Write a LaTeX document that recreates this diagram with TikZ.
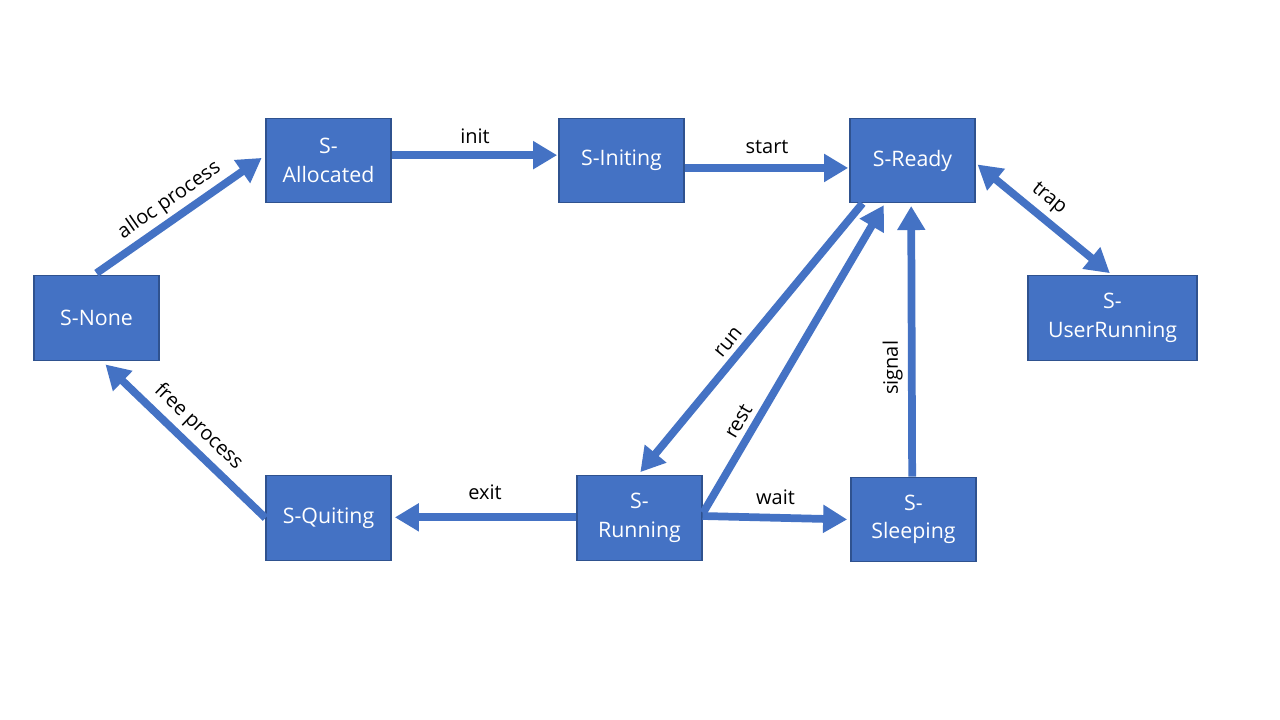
\documentclass[tikz,border=0pt]{standalone}
\usepackage{fontspec}
\setmainfont{Open Sans}
\usetikzlibrary{arrows.meta}
\definecolor{boxblue}{HTML}{4472C4}
\definecolor{boxline}{HTML}{2F528F}
\tikzset{
  state/.style={draw=boxline, line width=0.8pt, fill=boxblue, text=white,
    minimum width=93.75pt, minimum height=63.5pt, inner sep=2pt,
    align=center, font=\fontsize{16}{21.5}\selectfont},
  conn/.style={draw=boxblue, line width=5.8pt,
    -{Triangle[length=18pt,width=20pt]}, shorten >=1pt},
  both/.style={draw=boxblue, line width=5.8pt,
    {Triangle[length=18pt,width=20pt]}-{Triangle[length=18pt,width=20pt]}},
  lab/.style={font=\fontsize{15}{18}\selectfont, text=black, inner sep=4pt}
}
\begin{document}
\begin{tikzpicture}[x=0.75pt,y=-0.75pt]
\useasboundingbox (0,0) rectangle (1280,720);
\fill[white] (0,0) rectangle (1280,720);
\node[state] (none) at (96.5,318) {S-None};
\node[state] (alloc) at (328.5,160.5) {S-\\Allocated};
\node[state] (init) at (621.5,160.5) {S-Initing};
\node[state] (ready) at (912.5,160.5) {S-Ready};
\node[state, minimum width=126.75pt] (user) at (1112.5,318) {S-\\UserRunning};
\node[state] (quit) at (328.5,518) {S-Quiting};
\node[state] (run) at (639.5,518) {S-\\Running};
\node[state] (sleep) at (913.5,519.5) {S-\\Sleeping};

\draw[conn] ([yshift=1.5pt]none.north) -- ([xshift=-2pt,yshift=2.5pt]alloc.west)
  node[lab, midway, sloped, above, yshift=-1pt] {alloc process};
\draw[conn] ([yshift=4pt]alloc.east) -- ([yshift=4pt]init.west)
  node[lab, midway, above, yshift=2pt] {init};
\draw[conn] ([yshift=-5.6pt]init.east) -- ([yshift=-5.6pt]ready.west)
  node[lab, midway, above, yshift=4pt] {start};
\draw[both] ([xshift=1.5pt,yshift=-3pt]ready.east) -- ([xshift=-2pt,yshift=1.5pt]user.north)
  node[lab, pos=0.45, sloped, above] {trap};
\draw[conn] ([xshift=-37.5pt]ready.south) -- ([yshift=1.5pt]run.north)
  node[lab, pos=0.55, sloped, above] {run};
\draw[conn] ([xshift=0.5pt,yshift=4pt]run.east) -- ([xshift=-21pt,yshift=-0.5pt]ready.south)
  node[lab, pos=0.27, sloped, above] {rest};
\draw[conn] ([yshift=1.5pt]run.east) -- ([xshift=-1.5pt]sleep.west)
  node[lab, midway, above, yshift=3pt] {wait};
\draw[conn] ([xshift=-1pt]sleep.north) -- ([xshift=-1pt,yshift=-1pt]ready.south)
  node[lab, pos=0.4, rotate=90, anchor=south] {signal};
\draw[conn] ([yshift=0.5pt]run.west) -- ([xshift=1.5pt,yshift=0.5pt]quit.east)
  node[lab, midway, above, yshift=6pt] {exit};
\draw[conn] (quit.west) -- ([xshift=6pt,yshift=-2pt]none.south)
  node[lab, midway, sloped, above] {free process};
\end{tikzpicture}
\end{document}
